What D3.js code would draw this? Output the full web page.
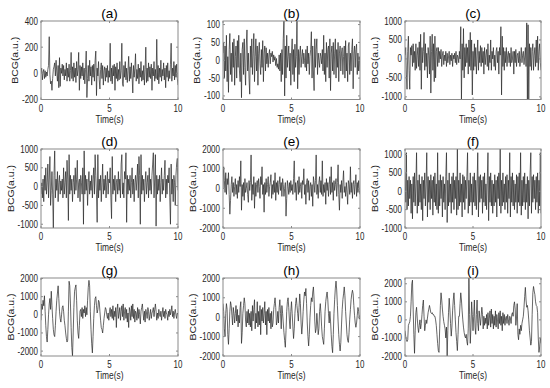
<!DOCTYPE html>
<html>
<head>
<meta charset="utf-8">
<script src="https://cdn.jsdelivr.net/npm/d3@7"></script>
<style>
  html, body { margin: 0; padding: 0; background: #fff; }
  svg { display: block; font-family: "Liberation Sans", Arial, sans-serif; }
</style>
</head>
<body>
<div id="chart"></div>
<script>
// 10 s of BCG per panel, one sample every 0.05 s
const panelNames = ["(a)", "(b)", "(c)", "(d)", "(e)", "(f)", "(g)", "(h)", "(i)"];
const xTicks = [0, 5, 10];
const duration = 10;

const seriesA = [
  0, 40, -50, 10, 30, -40, 20, -30, 10, -20, 30, 60, 280, -10, -80, -60, -130, -40, 30, 50,
  80, -20, 100, 10, -60, 60, -110, 120, -100, 40, 0, 70, -20, 60, -50, 30, -20, 80, -60, 40,
  -30, 70, -60, 20, 160, -40, 50, -60, 80, -30, 40, -70, 90, -20, 30, 160, -130, 60, -40, 50,
  -20, 80, -50, 40, -80, 30, 170, -185, -40, 60, -60, 100, -20, 50, -90, 60, -30, 70, -60, 100,
  170, -170, 40, -20, 90, -50, -120, 30, 80, -40, 60, -90, 20, 50, -60, 40, -30, 60, -70, 20,
  -30, 230, -60, 40, -80, 60, -20, 70, -130, 50, -40, 80, -60, 30, -50, 90, -40, 20, 230, -80,
  -100, 60, -30, 90, -50, 40, -70, 20, 130, -60, 50, -40, 80, -20, -150, 60, -30, 40, 150, -60,
  30, -40, 70, -80, 40, -30, 90, -60, 20, -50, 60, -90, 30, 200, -70, 40, -60, 80, -30, 50,
  -40, 70, -130, 40, -20, 90, -60, 30, -40, 260, -50, 60, -80, 40, -30, 100, -60, 30, -20, 80,
  -50, 40, -110, 60, -30, 80, -60, 20, -40, 70, 230, -60, 40, -20, 90, -50, 60, -30, 70, -40, -90
];
const seriesB = [
  20, 50, -50, 40, -30, 70, -60, 10, -90, 30, 75, -40, 20, -60, 50, -20, 60, -70, 10, 40,
  -50, 55, -20, 70, -30, -60, 20, -105, 30, 50, -40, 60, -20, -70, 40, 85, -30, 20, -50, -95,
  40, -20, 60, -40, 20, 75, -60, 10, 60, -30, 40, -70, 20, 50, -10, -40, 30, -20, 55, -60,
  20, 40, -30, 35, -10, 20, -20, 15, 30, -10, 20, 10, 25, -5, 15, 0, 10, -15, 5, -20,
  -10, -25, 15, -30, 20, -60, 30, -40, 60, 115, -100, 40, -50, 70, -20, 10, 40, -30, 20, -70,
  20, 60, -40, 30, -60, 45, -20, 10, 115, -80, 30, -40, 20, 40, -20, 10, 30, -10, 20, 0,
  -20, 30, -30, 40, -10, 20, -40, 10, 30, 80, -50, 40, -30, -85, 60, -20, 30, 60, -40, 20,
  0, -20, 20, 10, -10, 30, -30, 70, -40, 20, -60, 50, -20, 30, 40, -50, 60, -85, 20, 40,
  -30, 50, -40, 20, 60, -50, 30, -20, 50, -60, 20, 40, -30, 20, 35, -40, 10, 40, -50, 55,
  -30, 20, -60, 40, 50, -40, 20, -30, 30, 60, -80, 20, 40, -20, 30, 45, -40, 20, -30, 10, -30
];
const seriesC = [
  100, 300, -400, -800, 200, 600, -300, -800, 300, 100, 350, -200, 400, -100, 200, -300, 400, -250, 100, 300,
  -200, 450, -300, 650, -800, 300, -100, 200, 700, -300, 400, -200, 150, -500, 300, 100, -400, 600, -900, 200,
  650, -300, 400, -600, 600, -500, 200, 300, -200, 300, -100, 200, 0, 250, -200, 100, 200, -150, 100, -50,
  200, -200, 150, -100, 50, 200, -150, 100, -50, 150, -200, 100, 0, 150, -100, 200, -150, 100, 50, -100,
  200, 0, 850, -1070, 400, -300, 800, -500, 300, -200, 400, -100, 300, -400, 500, -200, 700, -300, 500, -950,
  200, -300, 400, -200, 300, -400, 100, 500, -300, 200, -100, 350, -200, 300, -100, 200, -400, 300, -150, 100,
  250, -200, 400, -300, 100, -100, 500, -300, 200, 0, 300, -200, 100, -300, 200, 300, -100, 200, -400, 300,
  100, 850, -950, 600, -200, 300, -300, 200, -100, 300, -200, 100, 200, -100, 150, -200, 300, -100, 0, 200,
  -400, 200, -100, 250, -200, 100, 150, -100, 200, -200, 0, 300, -100, 100, 200, -150, 50, 300, -200, 950,
  -1070, 900, -1070, 400, -200, 300, -300, 200, 400, -300, 100, 300, -200, 500, -100, 600, -300, 200, 400, -100, -300
];
const seriesD = [
  -200, 100, -300, 200, -400, 300, -100, 500, -200, 100, 600, -300, 200, 800, -500, -100, 400, -200, -1100, 300,
  950, -300, 200, -100, 400, -400, 100, 300, -200, 150, -100, 200, -300, 500, -200, 100, 400, -300, 700, 200,
  -900, 850, -200, 300, -100, 200, -400, 100, 300, -200, 500, -100, 200, 700, -300, 100, 200, -400, 300, 100,
  -200, 500, -1000, 950, -200, 300, -100, 200, -500, 100, 400, -200, 150, -100, 300, -300, 200, 500, -200, 850,
  300, -200, -950, 850, -300, 200, -100, 300, -400, 100, 600, -200, 200, -100, 300, -300, 100, 400, -200, 200,
  100, 500, -300, -850, 800, -200, 200, -100, 300, -400, 100, 200, -200, 400, -100, 200, -300, 600, 850, -200,
  100, -300, 400, 200, 900, -950, 300, -200, 200, -100, 300, -300, 100, 500, -200, 200, -400, 100, 300, -100,
  200, 600, -300, 800, 300, -1000, 850, -200, 300, -100, 200, -400, 100, 400, -200, 100, 300, -300, 500, -100,
  200, -200, 300, 600, 900, -300, 200, 850, -1050, 300, -200, 200, -100, 300, -400, 100, 500, -200, 200, -100,
  300, 700, -300, 200, -200, 300, 100, 500, -300, -1000, 600, -200, 200, -400, 300, 100, -500, 300, 600, 750, -100
];
const seriesE = [
  0, 1100, 400, -200, 800, -300, 500, 200, 800, -300, -1300, -600, 200, 600, -200, 300, -400, 100, 500, -300,
  200, -500, 400, -200, 600, 100, 1400, -1100, 200, -400, 300, -600, 500, -200, 0, 300, -300, -700, 400, -100,
  300, 1700, -600, 200, -300, 600, -1000, 300, -400, 200, 400, -200, 500, 100, -500, 600, 200, 1100, -300, 200,
  -1200, 300, -300, 500, -200, 200, 600, -400, 100, 300, 700, -500, 200, -300, 400, -200, 800, -600, 300, -200,
  400, -300, 200, 600, -100, 300, -400, 500, 200, -400, 0, 300, -1400, -500, 400, 100, -300, 300, -200, 400,
  -100, 200, -300, 500, 1400, -200, 300, -600, 200, 400, -300, 600, -200, 100, 300, -500, 400, 200, 1000, -300,
  200, -800, 300, 500, -200, 400, -600, 100, 300, -400, 200, -900, 600, 300, -200, 400, 1700, -300, 200, -500,
  300, 600, -200, 400, -300, 1400, -400, 200, -200, 300, -800, 500, -100, 300, -400, 200, 600, -300, 1100, -200,
  300, -600, 400, -100, 200, 500, -400, 300, 1200, -300, -1100, 200, -200, 400, -500, 300, 900, -200, 100, -400,
  300, -200, -800, 400, 200, -300, 1100, -200, 300, -500, 200, 400, -300, 200, 700, -400, 300, -200, 400, -100, -300
];
const seriesF = [
  500, -300, 1050, -500, 300, -400, 400, -200, 300, -600, 200, -750, 400, -300, 500, -400, 200, 1050, -600, 300,
  -400, 450, -300, 200, -500, 400, -800, 300, -200, 500, -400, 200, 1050, -700, 400, -300, 300, -500, 450, -200,
  300, -650, 400, -300, 500, -400, 200, -500, 1050, -600, 300, -400, 450, -200, 300, -700, 400, -300, 200, -500,
  400, 1050, -850, 300, -400, 500, -300, 200, -600, 400, -300, 500, -500, 300, -200, 400, -650, 1150, -500, 300,
  -400, 500, -300, 200, -700, 450, -300, 400, -500, 300, -200, 400, 1050, -600, 300, -400, 500, -300, 200, -650,
  400, -300, 500, -400, 300, -500, 200, 1050, -700, 400, -300, 450, -200, 300, -600, 400, -300, 500, -400, 200,
  -500, 300, 1050, -800, 400, -300, 500, -400, 300, -600, 200, -400, 450, -300, 300, -700, 400, -200, 500, -400,
  1150, -600, 300, -400, 500, -300, 200, -500, 400, -300, 450, -600, 300, -200, 1050, -700, 400, -300, 500, -400,
  300, -500, 200, -300, 450, -600, 400, -300, 500, -400, 1050, -650, 300, -400, 400, -300, 500, -500, 200, -300,
  400, -750, 300, -400, 500, 1050, -600, 400, -300, 450, -200, 300, -500, 400, -300, 500, -600, 300, -400, 1050, -600
];
const seriesG = [
  -300, 600, 300, 800, 500, 1050, 200, -600, -1200, -1500, -800, 0, 600, 900, 300, 1300, 500, -200, -800, -1100,
  -1200, -600, 200, 800, 1200, 1600, 900, 200, -200, -400, 0, 400, 500, 200, -300, -600, -1000, -1300, -1500, -1400,
  200, 1850, 1600, 600, -700, -1800, -2270, -1000, 400, 1300, 1500, 1650, 800, -300, -1000, -1300, -600, 200, 300, -100,
  400, -200, 300, 100, 500, -100, 400, 0, 800, 1500, 1900, 1600, 200, -800, -1600, -2100, -1200, -200, 500, 900,
  1000, 500, 100, 300, 800, 700, 200, -300, -700, -800, -1000, -600, -200, 100, 400, 300, 0, -200, 100, -300,
  200, 400, -100, 300, -200, 500, -300, 200, -100, 400, -700, 300, 600, -200, 100, 400, -300, 200, 500, -100,
  600, -300, 200, 400, -200, 300, -400, 100, -700, 400, 200, -300, 500, -100, 600, -200, 300, -400, 200, 100,
  -300, 400, -200, 300, 0, -500, 200, 400, 600, 100, -300, 200, -400, 300, 100, -200, 400, 200, -300, 0,
  300, -200, 100, 200, 400, -100, 300, 600, 200, -300, 100, -200, 300, 0, -100, 200, -300, 100, 400, -100,
  200, -200, 300, 100, 0, -300, 200, -100, 300, 0, 200, 500, -100, 200, -200, 100, 300, 0, -200, 100, 0
];
const seriesH = [
  700, 300, -600, -1000, 200, 700, 400, -900, -1400, -600, 300, 800, 600, 100, -400, 500, 200, -300, 200, 600,
  -200, 400, -500, 100, -300, 500, 800, -1350, -800, 200, 600, 1000, 700, -200, -500, 300, -300, 400, -400, 200,
  -500, 300, -700, 600, -200, 400, 900, -600, 200, -300, 800, -500, 300, -400, 600, -900, 400, -200, 500, -300,
  200, 800, -400, 300, -900, 400, -200, 500, -300, 200, -600, 300, -500, -300, 400, 700, 1000, 500, -400, -200,
  300, -300, 500, 900, 200, -600, 600, 200, -300, -800, -1200, -1550, -700, 300, 800, 1000, 500, -200, -600, 300,
  800, 200, -500, -1100, -600, 200, 700, 1000, 600, 200, -200, 500, 1200, 700, -300, -870, -400, 300, 900, 1300,
  1100, 1480, 700, -300, -1000, -1480, -900, 0, 600, 1000, 800, 1300, 1560, 900, -200, -800, -600, 200, -300, -900,
  -600, 300, 700, 200, -500, -1000, -1200, -1400, -600, 300, 800, 1100, 1300, 900, 200, -300, 300, -200, -900, -1500,
  -1830, -900, 200, 900, 1500, 1860, 1400, 600, -200, -900, -1400, -1740, -1300, -400, 400, 900, 1200, 1560, 1100, 300,
  -300, -900, -1200, -1300, -800, -100, 400, 900, 1200, 1390, 1200, 600, 100, -300, -520, -300, 100, 500, 300, -100, 100
];
const seriesI = [
  -600, -900, -1100, -1200, -1100, -300, -200, -100, 200, 1000, 2000, 2200, 600, -800, -1850, -600, 400, 700, 100, -400,
  -700, -300, 0, -500, -200, 300, 800, 1100, 200, -600, -300, 0, -200, 100, 400, 600, 800, 600, 400, 350,
  400, 300, 300, 200, 200, 0, -300, -800, -1300, -1700, -1800, -500, 800, 1500, 1100, 600, 200, -100, -300, -500,
  -1000, -400, -2000, -600, 400, 1200, 600, -200, -900, -400, 500, 1100, 1500, 800, 0, -700, -1200, -1700, -800, 200,
  200, 900, 1500, 1100, 500, 0, -400, -700, -900, -1000, -800, -1200, -1400, -500, 2320, 300, -1300, -400, 1000, 300,
  -600, 200, 1100, -400, -800, 300, 1100, -200, -600, 500, 100, -300, 200, 700, 300, -500, 200, -300, 100, -200,
  300, -500, 400, -300, 100, 500, -400, 600, -200, 300, -500, 200, -300, 500, -400, 300, 0, -500, 400, -200,
  500, -300, 200, -600, 400, -200, 300, -300, 100, 200, -200, 300, 0, -300, 200, 100, -200, 300, 400, 200,
  800, 1000, 600, -300, 100, 900, -800, -1100, -500, -800, -300, -600, -200, 0, 200, 700, 1300, 1800, 1100, 700,
  800, 500, 0, -600, -1000, -1400, -1200, 300, 1500, 1850, 1600, 1400, 1000, 800, 750, 400, -1000, -1800, -1500, -1000, -1300
];

const allSeries = [seriesA, seriesB, seriesC, seriesD, seriesE, seriesF, seriesG, seriesH, seriesI];
const yDomains = [
  [-200, 400], [-110, 110], [-1070, 1000],
  [-1100, 1000], [-2000, 2000], [-1000, 1150],
  [-2270, 2030], [-2000, 2020], [-2000, 2320]
];
const yTickSets = [
  [-200, 0, 200, 400], [-100, -50, 0, 50, 100], [-1000, -500, 0, 500, 1000],
  [-1000, -500, 0, 500, 1000], [-2000, -1000, 0, 1000, 2000], [-1000, -500, 0, 500, 1000],
  [-2000, -1000, 0, 1000, 2000], [-2000, -1000, 0, 1000, 2000], [-2000, -1000, 0, 1000, 2000]
];

const width = 550, height = 388;
const colBounds = [[41, 178], [223, 360], [405, 541]];
const rowBounds = [[21, 99.5], [149, 228], [278, 356]];
const squeeze = 0.8; // the source figure is narrowed horizontally
const axisColor = "#8a8a8a";
const textColor = "#262626";

const svg = d3.select("#chart").append("svg")
  .attr("width", width)
  .attr("height", height);

const defs = svg.append("defs");

allSeries.forEach((values, k) => {
  const [x0, x1] = colBounds[k % 3];
  const [y0, y1] = rowBounds[Math.floor(k / 3)];

  const x = d3.scaleLinear().domain([0, duration]).range([x0, x1]);
  const y = d3.scaleLinear().domain(yDomains[k]).range([y1, y0]);
  const step = duration / (values.length - 1);

  const g = svg.append("g");

  defs.append("clipPath").attr("id", `clip-${k}`)
    .append("rect")
    .attr("x", x0).attr("y", y0)
    .attr("width", x1 - x0).attr("height", y1 - y0);

  // signal
  g.append("path")
    .datum(values)
    .attr("clip-path", `url(#clip-${k})`)
    .attr("fill", "none")
    .attr("stroke", "#262626")
    .attr("stroke-width", 0.7)
    .attr("stroke-linejoin", "round")
    .attr("d", d3.line().x((d, i) => x(i * step)).y(d => y(d)));

  // box
  g.append("rect")
    .attr("x", x0).attr("y", y0)
    .attr("width", x1 - x0).attr("height", y1 - y0)
    .attr("fill", "none")
    .attr("stroke", axisColor)
    .attr("stroke-width", 1);

  // ticks, pointing inwards on all four sides
  const tickLen = 2;
  xTicks.forEach(t => {
    g.append("line").attr("x1", x(t)).attr("x2", x(t)).attr("y1", y1).attr("y2", y1 - tickLen)
      .attr("stroke", axisColor);
    g.append("line").attr("x1", x(t)).attr("x2", x(t)).attr("y1", y0).attr("y2", y0 + tickLen)
      .attr("stroke", axisColor);
    g.append("text")
      .attr("transform", `translate(${x(t)},${y1 + 12}) scale(${squeeze},1)`)
      .attr("text-anchor", "middle")
      .attr("font-size", 10)
      .attr("fill", textColor)
      .text(t);
  });

  let maxLabel = 0;
  yTickSets[k].forEach(v => {
    g.append("line").attr("x1", x0).attr("x2", x0 + tickLen).attr("y1", y(v)).attr("y2", y(v))
      .attr("stroke", axisColor);
    g.append("line").attr("x1", x1).attr("x2", x1 - tickLen).attr("y1", y(v)).attr("y2", y(v))
      .attr("stroke", axisColor);
    const label = g.append("text")
      .attr("transform", `translate(${x0 - 3},${y(v) + 3.5}) scale(${squeeze},1)`)
      .attr("text-anchor", "end")
      .attr("font-size", 10)
      .attr("fill", textColor)
      .text(v);
    maxLabel = Math.max(maxLabel, label.node().getComputedTextLength() * squeeze);
  });

  // axis titles
  g.append("text")
    .attr("transform", `translate(${(x0 + x1) / 2},${y1 + 23}) scale(${squeeze},1)`)
    .attr("text-anchor", "middle")
    .attr("font-size", 10.5)
    .attr("fill", textColor)
    .text("Time(s)");

  g.append("text")
    .attr("transform", `translate(${x0 - maxLabel - 7},${(y0 + y1) / 2}) scale(${squeeze},1) rotate(-90)`)
    .attr("text-anchor", "middle")
    .attr("font-size", 10.5)
    .attr("fill", textColor)
    .text("BCG(a.u.)");

  // panel letter
  g.append("text")
    .attr("x", (x0 + x1) / 2)
    .attr("y", y0 - 3)
    .attr("text-anchor", "middle")
    .attr("font-size", 13.5)
    .attr("fill", "#000")
    .text(panelNames[k]);
});
</script>
</body>
</html>
